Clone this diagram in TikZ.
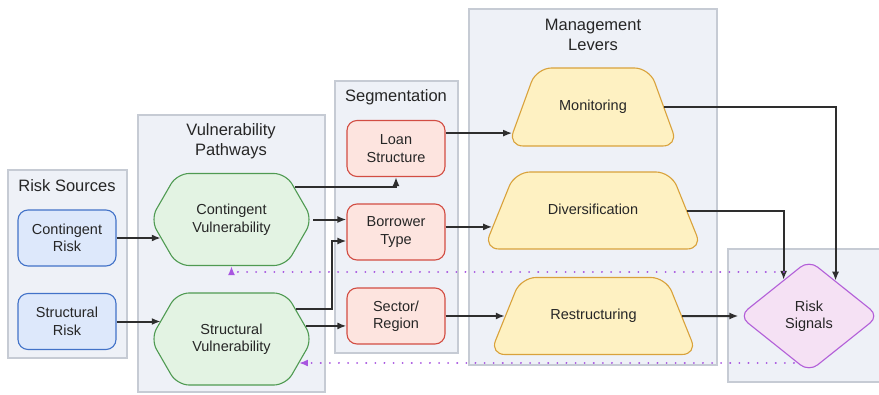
\documentclass[tikz,border=0pt]{standalone}
\usepackage{fontspec}
\setmainfont{Liberation Sans}
\usetikzlibrary{shapes.geometric}
\usetikzlibrary{shapes.symbols}
\usetikzlibrary{arrows.meta}
\usetikzlibrary{calc}

\definecolor{groupfill}{HTML}{EEF1F7}
\definecolor{groupline}{HTML}{C6CBD4}
\definecolor{textcol}{HTML}{262626}
\definecolor{srcfill}{HTML}{DDE8FB}
\definecolor{srcline}{HTML}{4272C8}
\definecolor{pathfill}{HTML}{E3F3E3}
\definecolor{pathline}{HTML}{4F9A52}
\definecolor{segfill}{HTML}{FDE4DF}
\definecolor{segline}{HTML}{D24D43}
\definecolor{levfill}{HTML}{FEF1C2}
\definecolor{levline}{HTML}{D9A23B}
\definecolor{sigfill}{HTML}{F5E1F4}
\definecolor{sigline}{HTML}{B25ED8}
\definecolor{flowcol}{HTML}{2E2E2E}
\definecolor{fbcol}{HTML}{A856E0}

\begin{document}
\begin{tikzpicture}[x=1pt, y=-1pt,
	group/.style={draw=groupline, fill=groupfill, line width=1.1pt},
	grouptitle/.style={font=\fontsize{16.5}{19.5}\selectfont, text=textcol, align=center},
	box/.style={line width=1.1pt, align=center, text=textcol, inner sep=2pt,
		font=\fontsize{14.5}{17.5}\selectfont},
	source/.style={box, rectangle, rounded corners=10pt, minimum width=98pt, minimum height=56pt,
		draw=srcline, fill=srcfill},
	segment/.style={box, rectangle, rounded corners=10pt, minimum width=98pt, minimum height=56pt,
		draw=segline, fill=segfill},
	pathway/.style={box, signal, signal to=west and east, signal pointer angle=120,
		minimum width=162pt, minimum height=92pt, rounded corners=12pt, draw=pathline, fill=pathfill},
	% top edge set by the text width, slopes by the angle
	lever/.style={box, trapezium, trapezium angle=68, inner xsep=0pt, inner ysep=32pt,
		text height=10pt, text depth=3pt, rounded corners=15pt, draw=levline, fill=levfill},
	signals/.style={box, diamond, aspect=1.25, minimum width=140pt, minimum height=112pt,
		rounded corners=11pt, draw=sigline, fill=sigfill},
	flow/.style={draw=flowcol, line width=2pt, -{Latex[length=9pt,width=7pt]}},
	feedback/.style={draw=fbcol, line width=2pt, line cap=round, dash pattern=on 0.1pt off 9pt,
		-{Latex[length=9pt,width=7pt]}}
]
	\useasboundingbox (0,0) rectangle (879,394);

	% Group panels
	\draw[group] (8,170) rectangle (127,358);
	\draw[group] (138,115) rectangle (325,392);
	\draw[group] (335,81) rectangle (458,353);
	\draw[group] (469,9) rectangle (717,365);
	\draw[group] (728,249) rectangle (884,382);
	\node[grouptitle] (srcT) at (67,186) {Risk Sources};
	\node[grouptitle] (pathT) at (231,141) {Vulnerability\\Pathways};
	\node[grouptitle] (segT) at (396,97) {Segmentation};
	\node[grouptitle] (levT) at (593,35) {Management\\Levers};

	% Nodes
	\node[source] (cr) at (67,238) {Contingent\\Risk};
	\node[source] (sr) at (67,321.5) {Structural\\Risk};
	\node[pathway] (cv) at (231.5,219.5) {Contingent\\Vulnerability};
	\node[pathway] (sv) at (231.5,339) {Structural\\Vulnerability};
	\node[segment] (loan) at (396,148.5) {Loan\\Structure};
	\node[segment] (bt) at (396,232) {Borrower\\Type};
	\node[segment] (sec) at (396,316) {Sector/\\Region};
	\node[lever, trapezium angle=70, inner ysep=32.5pt, text width=113pt] (mon) at (593,107) {Monitoring};
	\node[lever, text width=156pt] (div) at (593,210.5) {Diversification};
	\node[lever, text width=145pt] (res) at (593.5,316) {Restructuring};
	\node[signals] (sig) at (809,316) {Risk\\Signals};

	%Sources into pathways
	\draw[flow] (cr) -- (cr -| cv.195);
	\draw[flow] (sr) -- (sr -| sv.165);

	%Pathways into segments
	\coordinate (jog) at (332,241);
	\draw[flow] (cv.27) -| (loan.south);
	\draw[flow] (cv.0) -- (cv.0 -| bt.west);
	\draw[flow] (sv.25) -| (jog) -- (jog -| bt.west);
	\draw[flow] (sv.10) -- (sv.10 -| sec.west);

	%Segments into levers
	\coordinate (monin) at ($(mon.bottom left corner)!0.17!(mon.top left corner)$);
	\coordinate (divin) at ($(div.bottom left corner)!0.29!(div.top left corner)$);
	\draw[flow] (monin -| loan.east) -- (monin);
	\draw[flow] (divin -| bt.east) -- (divin);
	\draw[flow] (sec) -- (res.left side);

	%Levers into signals
	\draw[flow] (mon.right side) -| (sig.53);
	\draw[flow] (div.right side) -| (sig.125);
	\draw[flow] (res) -- (sig);

	%Feedback loops
	\coordinate (fbtop) at (784,272);
	\coordinate (fbbot) at (794,363);
	\draw[feedback] (fbtop) -| (cv.270);
	\draw[feedback] (fbbot) -- (fbbot -| sv.-20);

\end{tikzpicture}
\end{document}
